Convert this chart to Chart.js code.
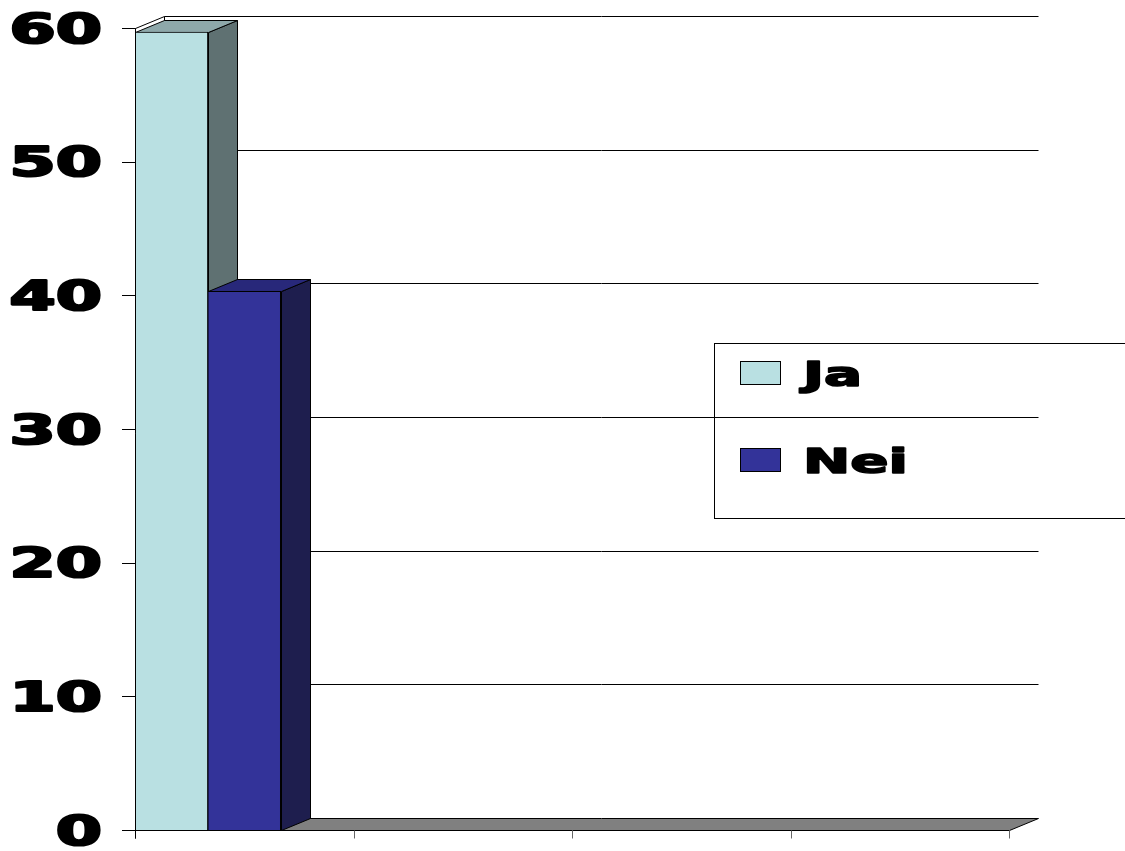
<!DOCTYPE html>
<html>
<head>
<meta charset="utf-8">
<script src="https://cdn.jsdelivr.net/npm/chart.js@4.4.1/dist/chart.umd.min.js"></script>
<style>
  html, body { margin: 0; padding: 0; background: #fff; }
  canvas { display: block; }
</style>
</head>
<body>
<canvas id="chartSvar" width="1125" height="851"></canvas>
<script>
	// data
	let categories = ["", "", "", ""];
	let jaValues = [59.7, null, null, null];
	let neiValues = [40.3, null, null, null];
	let spacerValues = [null, null, null, null];
	let yTicks = [0, 10, 20, 30, 40, 50, 60];

	// look
	let depthX = 29;
	let depthY = -12;
	let textStretch = 1.66;
	let tickFont = 'bold 40px "DejaVu Sans"';
	let legendFont = 'bold 34px "DejaVu Sans"';

	function px(v) {
		return Math.round(v) + 0.5;
	}

	function poly(ctx, pts, fill) {
		ctx.beginPath();
		ctx.moveTo(pts[0][0], pts[0][1]);
		for (let i = 1; i < pts.length; i++) {
			ctx.lineTo(pts[i][0], pts[i][1]);
		}
		ctx.closePath();
		if (fill) {
			ctx.fillStyle = fill;
			ctx.fill();
		}
		ctx.strokeStyle = "#000";
		ctx.lineWidth = 1;
		ctx.stroke();
	}

	function stretchedText(ctx, text, x, y, font, align, weight) {
		ctx.save();
		ctx.font = font;
		ctx.fillStyle = "#000";
		ctx.strokeStyle = "#000";
		ctx.lineJoin = "round";
		ctx.lineWidth = weight;
		ctx.textAlign = align;
		ctx.textBaseline = "alphabetic";
		ctx.scale(textStretch, 1);
		ctx.fillText(text, x / textStretch, y);
		ctx.strokeText(text, x / textStretch, y);
		ctx.restore();
	}

	let box3d = {
		id: "box3d",
		beforeDatasetsDraw: function(chart) {
			let ctx = chart.ctx;
			let area = chart.chartArea;
			let yScale = chart.scales.y;
			let x0 = area.left, x1 = area.right;
			let yBot = yScale.getPixelForValue(0);
			let yTop = yScale.getPixelForValue(yTicks[yTicks.length - 1]);

			ctx.save();
			// left wall
			poly(ctx, [
				[px(x0), px(yTop)], [px(x0 + depthX), px(yTop + depthY)],
				[px(x0 + depthX), px(yBot + depthY)], [px(x0), px(yBot)]
			], "#fff");

			// back wall gridlines
			ctx.strokeStyle = "#000";
			ctx.lineWidth = 1;
			yTicks.forEach(function(v) {
				if (v === 0) return;
				let y = px(yScale.getPixelForValue(v) + depthY);
				ctx.beginPath();
				ctx.moveTo(px(x0 + depthX), y);
				ctx.lineTo(px(x1 + depthX), y);
				ctx.stroke();
			});

			// floor
			poly(ctx, [
				[px(x0), px(yBot)], [px(x1), px(yBot)],
				[px(x1 + depthX), px(yBot + depthY)], [px(x0 + depthX), px(yBot + depthY)]
			], "#808080");

			// value axis ticks and labels
			ctx.strokeStyle = "#000";
			yTicks.forEach(function(v) {
				let y = yScale.getPixelForValue(v);
				ctx.beginPath();
				ctx.moveTo(x0 - 13, px(y));
				ctx.lineTo(px(x0), px(y));
				ctx.stroke();
				stretchedText(ctx, String(v), x0 - 33, y + 14.5, tickFont, "right", 2.2);
			});

			// category axis ticks
			let n = categories.length;
			for (let i = 0; i <= n; i++) {
				let x = px(x0 + i * (x1 - x0) / n);
				ctx.strokeStyle = i === 0 ? "#000" : "#666";
				ctx.beginPath();
				ctx.moveTo(x, px(yBot));
				ctx.lineTo(x, px(yBot) + 8);
				ctx.stroke();
			}

			// side and top faces of the bars, left to right; the library draws the fronts after
			chart.data.datasets.forEach(function(ds, k) {
				if (!ds.sideColor) return;
				chart.getDatasetMeta(k).data.forEach(function(bar, i) {
					if (ds.data[i] === null) return;
					let p = bar.getProps(["x", "y", "base", "width"], true);
					let l = px(p.x - p.width / 2), r = px(p.x + p.width / 2);
					let t = px(p.y), b = px(p.base);
					poly(ctx, [[r, t], [r + depthX, t + depthY], [r + depthX, b + depthY], [r, b]], ds.sideColor);
					poly(ctx, [[l, t], [l + depthX, t + depthY], [r + depthX, t + depthY], [r, t]], ds.topColor);
				});
			});
			ctx.restore();
		},
		afterDatasetsDraw: function(chart) {
			let ctx = chart.ctx;
			let area = chart.chartArea;
			let yScale = chart.scales.y;
			let yBot = yScale.getPixelForValue(0);
			let yTop = yScale.getPixelForValue(yTicks[yTicks.length - 1]);
			ctx.save();
			ctx.strokeStyle = "#000";
			ctx.lineWidth = 1;
			ctx.beginPath();
			ctx.moveTo(px(area.left), px(yTop));
			ctx.lineTo(px(area.left), px(yBot) + 8);
			ctx.stroke();
			ctx.restore();
		},
		afterDraw: function(chart) {
			let ctx = chart.ctx;
			let items = chart.data.datasets.filter(function(ds) { return ds.label; });
			ctx.save();
			ctx.strokeStyle = "#000";
			ctx.lineWidth = 1;
			ctx.strokeRect(714.5, 343.5, 430, 175);
			items.forEach(function(ds, i) {
				let cy = 373 + i * 87;
				ctx.fillStyle = ds.backgroundColor;
				ctx.fillRect(740.5, cy - 11.5, 40, 23);
				ctx.strokeRect(740.5, cy - 11.5, 40, 23);
				stretchedText(ctx, ds.label, 803, cy + 12.5, legendFont, "left", 1.6);
			});
			ctx.restore();
		}
	};

	let ctx = document.getElementById("chartSvar");

	let dataSvar = {
		labels: categories,
		datasets: [{
			label: "Ja",
			data: jaValues,
			backgroundColor: "#b9e0e2",
			sideColor: "#5f7172",
			topColor: "#8ea8aa",
			borderColor: "#000",
			borderWidth: 1
		}, {
			label: "Nei",
			data: neiValues,
			backgroundColor: "#333399",
			sideColor: "#1e1e4e",
			topColor: "#28287a",
			borderColor: "#000",
			borderWidth: 1
		}, {
			label: "",
			data: spacerValues,
			backgroundColor: "transparent"
		}]
	};

	let optionsSvar = {
		responsive: false,
		animation: false,
		devicePixelRatio: 1,
		layout: {
			padding: { left: 135, right: 116, top: 28, bottom: 21 }
		},
		datasets: {
			bar: { categoryPercentage: 1, barPercentage: 1 }
		},
		scales: {
			x: { display: false, offset: true },
			y: { display: false, min: 0, max: 60, ticks: { stepSize: 10 } }
		},
		plugins: {
			legend: { display: false },
			tooltip: { enabled: false }
		}
	};

	let myBarSvarChart = new Chart(ctx, {
		type: "bar",
		data: dataSvar,
		options: optionsSvar,
		plugins: [box3d]
	});
</script>
</body>
</html>
